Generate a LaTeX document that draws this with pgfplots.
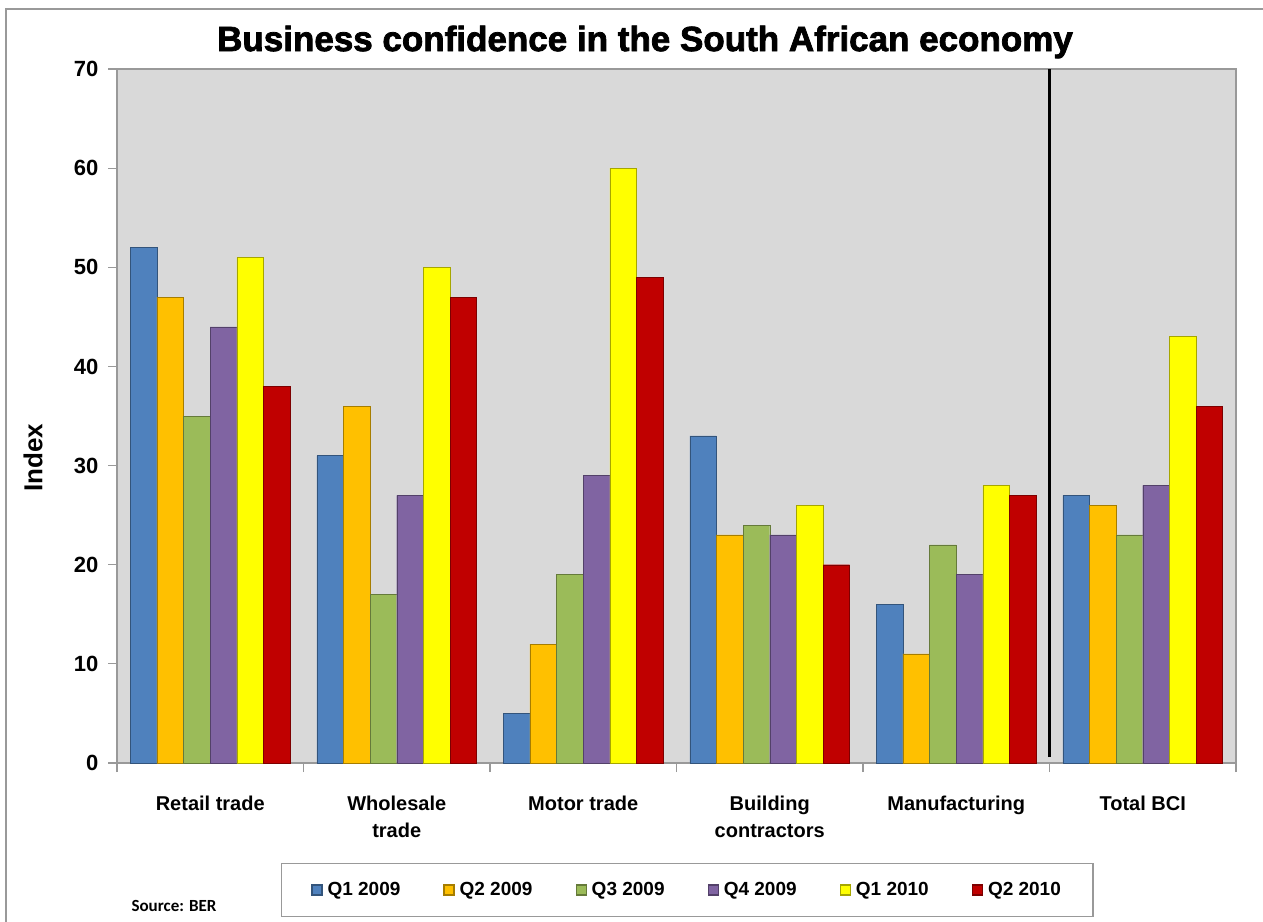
\documentclass[border=0pt]{standalone}
\usepackage{pgfplots}
\pgfplotsset{compat=1.18}
\usepackage{fontspec}
\setmainfont{Liberation Sans}
\newfontfamily\srcfont{Carlito}
\newfontfamily\titlefont{Liberation Sans}[BoldFeatures={FakeBold=2.2}]
\definecolor{cQa}{HTML}{4F81BD}
\definecolor{cQb}{HTML}{FFC000}
\definecolor{cQc}{HTML}{9BBB59}
\definecolor{cQd}{HTML}{8064A2}
\definecolor{cQe}{HTML}{FFFF00}
\definecolor{cQf}{HTML}{C00000}
\definecolor{bgg}{HTML}{D9D9D9}
\definecolor{frameg}{HTML}{999999}
\tikzset{bev/.style={fill=#1, draw=#1!65!black}}
\begin{document}
\begin{tikzpicture}[x=1pt,y=1pt]
\useasboundingbox (0,0) rectangle (1263,-921);
\draw[frameg, line width=2pt] (6,-9) rectangle (1300,-960);
\begin{axis}[
  at={(117pt,-763pt)}, anchor=south west,
  scale only axis, width=1119pt, height=694pt,
  ybar=0pt, bar width=0.142857,
  legend image code/.code={\fill[#1] (0pt,-5pt) rectangle (10pt,5pt);},
  xmin=-0.5, xmax=5.5, ymin=0, ymax=70,
  axis background/.style={fill=bgg},
  axis line style={frameg, line width=1.5pt},
  xtick={0,1,2,3,4,5},
  xticklabels={Retail trade, Wholesale\\trade, Motor trade, Building\\contractors, Manufacturing, Total BCI},
  minor xtick={-0.5,0.5,1.5,2.5,3.5,4.5,5.5},
  x tick style={draw=none},
  minor x tick style={frameg, line width=1.2pt, draw=frameg},
  minor tick length=9pt,
  ytick={0,10,...,70},
  y tick style={frameg, line width=1.2pt},
  major tick length=9pt,
  tick align=outside,
  xtick pos=bottom, ytick pos=left,
  /pgf/number format/assume math mode=true,
  yticklabel style={font=\fontsize{22}{24}\selectfont\bfseries, xshift=-6pt},
  xticklabel style={font=\fontsize{20}{27}\selectfont\bfseries, align=center, anchor=north, yshift=-20pt},
  ylabel={Index},
  every axis y label/.style={at={(-84pt,0.44)}, rotate=90, anchor=center, font=\fontsize{26}{28}\selectfont\bfseries},
  legend columns=6,
  legend style={at={(0.5095,-0.183)}, anchor=center, draw=frameg, line width=1.2pt,
    font=\fontsize{19}{22}\selectfont\bfseries, inner xsep=30pt, inner ysep=17pt,
    /tikz/every even column/.append style={column sep=41pt},
    /tikz/every odd column/.append style={column sep=3pt}},
  legend cell align=left,
]
\addplot[bev=cQa] coordinates {(0,52) (1,31) (2,5) (3,33) (4,16) (5,27)};
\addplot[bev=cQb] coordinates {(0,47) (1,36) (2,12) (3,23) (4,11) (5,26)};
\addplot[bev=cQc] coordinates {(0,35) (1,17) (2,19) (3,24) (4,22) (5,23)};
\addplot[bev=cQd] coordinates {(0,44) (1,27) (2,29) (3,23) (4,19) (5,28)};
\addplot[bev=cQe] coordinates {(0,51) (1,50) (2,60) (3,26) (4,28) (5,43)};
\addplot[bev=cQf] coordinates {(0,38) (1,47) (2,49) (3,20) (4,27) (5,36)};
\legend{Q1 2009, Q2 2009, Q3 2009, Q4 2009, Q1 2010, Q2 2010}
\draw[black, line width=2.5pt] (axis cs:4.5,0.6) -- (axis cs:4.5,70);
\end{axis}
\node[font=\titlefont\fontsize{35}{38}\selectfont\bfseries] at (645,-42) {Business confidence in the South African economy};
\node[font=\srcfont\fontsize{17}{20}\selectfont\bfseries, anchor=west] at (128,-906) {Source: BER};
\end{tikzpicture}
\end{document}
